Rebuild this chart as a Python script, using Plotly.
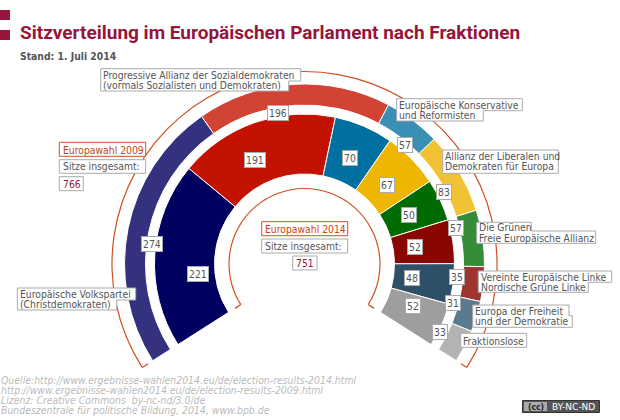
import numpy as np
import plotly.graph_objects as go

# Sitze je Fraktion
seats_2009 = [274, 196, 57, 83, 57, 35, 31, 33]
seats_2014 = [221, 191, 70, 67, 50, 52, 48, 52]
colors_2009 = ["#34317f", "#d04335", "#3a8fb5", "#f2c235", "#358d39", "#9f3530", "#5a7a90", "#b3b3b3"]
colors_2014 = ["#000060", "#c41200", "#0070a0", "#efb600", "#006b00", "#880800", "#2d5068", "#9e9e9e"]

W, H = 620, 420
CX, CY, R_MAX = 304.5, 264, 194
START, SPAN = -122.5, 245
ORANGE = "#d0501f"
GREY = "#aaaaaa"
WINE = "#97143a"
TEXT = "#555555"
PIX_FONT = "DejaVu Sans Condensed"


def px(x):
    return x / W


def py(y):
    return 1 - y / H


def ring(seats, colors, inner, outer):
    seats = np.array(seats)
    widths = seats / seats.sum() * SPAN
    theta = START + np.cumsum(widths) - widths / 2
    return go.Barpolar(
        theta=theta, width=widths, r=[outer - inner] * len(seats), base=inner,
        marker=dict(color=colors, line=dict(color="white", width=1)),
        hoverinfo="skip",
    )


def arc(radius, tick):
    # Bogen plus die beiden kleinen Enden
    lo, hi = (radius, radius + tick) if tick > 0 else (radius + tick, radius)
    return [
        go.Barpolar(theta=[START + SPAN / 2], width=[SPAN], r=[1.2], base=radius - 0.6,
                    marker=dict(color=ORANGE, line=dict(width=0)), hoverinfo="skip"),
        go.Barpolar(theta=[START, START + SPAN], width=[150 / radius / 2] * 2, r=[hi - lo] * 2, base=lo,
                    marker=dict(color=ORANGE, line=dict(width=0)), hoverinfo="skip"),
    ]


fig = go.Figure()
for tr in arc(192.5, -7) + arc(75.5, 7):
    fig.add_trace(tr)
fig.add_trace(ring(seats_2009, colors_2009, 159, 180))
fig.add_trace(ring(seats_2014, colors_2014, 90, 150))

shapes = [
    dict(type="rect", xref="paper", yref="paper", x0=0, x1=px(10), y0=py(10), y1=py(20),
         fillcolor=WINE, line_width=0),
    dict(type="rect", xref="paper", yref="paper", x0=0, x1=px(10), y0=py(30), y1=py(40),
         fillcolor=WINE, line_width=0),
]
annotations = []


def text(x, y, s, color=TEXT, size=10.3, anchor="left", **kw):
    annotations.append(dict(
        x=px(x), y=py(y), xref="paper", yref="paper", text=s, showarrow=False,
        xanchor=anchor, yanchor="middle", borderpad=0,
        font=dict(family=kw.pop("family", PIX_FONT), size=size, color=color), **kw))


def box(x0, y0, rows, color=GREY):
    d = f"M {px(x0)} {py(y0)}"
    for right, bottom in rows:
        d += f" H {px(right)} V {py(bottom)}"
    d += f" H {px(x0)} Z"
    shapes.append(dict(type="path", xref="paper", yref="paper", path=d,
                       fillcolor="white", line=dict(color=color, width=1)))


def number(x, y, s):
    annotations.append(dict(
        x=px(x), y=py(y), xref="paper", yref="paper", text=s, showarrow=False,
        font=dict(family=PIX_FONT, size=10.3, color=TEXT),
        bgcolor="white", bordercolor=GREY, borderwidth=1, borderpad=1))


# Titel
text(19, 33, "<b>Sitzverteilung im Europäischen Parlament nach Fraktionen</b>", WINE, 19, family="Roboto")
text(19, 56, "<b>Stand: 1. Juli 2014</b>", TEXT, 10.3)

# Fraktionen
box(100.7, 68.7, [(300.7, 81), (288.7, 91)])
text(102, 75, "Progressive Allianz der Sozialdemokraten")
text(102, 85, "(vormals Sozialisten und Demokraten)")
box(396.7, 98.7, [(522.3, 110.7), (483.3, 121)])
text(398, 104.5, "Europäische Konservative")
text(398, 115, "und Reformisten")
box(442.7, 150, [(558.3, 173.3)])
text(444, 156, "Allianz der Liberalen und")
text(444, 166.5, "Demokraten für Europa")
box(476.7, 222.3, [(531.3, 231), (595.7, 243.3)])
text(478, 227, "Die Grünen")
text(478, 237.5, "Freie Europäische Allianz")
box(478.3, 271, [(611.7, 282.3), (588.3, 292.3)])
text(480, 277, "Vereinte Europäische Linke")
text(480, 287, "Nordische Grüne Linke")
box(472.7, 305, [(569, 315.7), (572.3, 327.3)])
text(474, 311, "Europa der Freiheit")
text(474, 321, "und der Demokratie")
box(460.7, 333.3, [(526.7, 347.3)])
text(462, 340.5, "Fraktionslose")
box(17.3, 288, [(135.7, 300), (116.7, 310)])
text(19, 294, "Europäische Volkspartei")
text(19, 304, "(Christdemokraten)")

# Summen
box(59.3, 142.3, [(145.7, 156.3)], ORANGE)
text(62, 149.5, "Europawahl 2009", "#c8400f")
box(59.3, 159.7, [(145.7, 173.3)])
text(62, 166.5, "Sitze insgesamt:")
box(59.3, 176.7, [(83.3, 190.7)])
text(62, 184, "766", WINE)
box(261.7, 221.7, [(347.7, 235.7)], ORANGE)
text(264, 229, "Europawahl 2014", "#c8400f")
box(261.7, 239, [(347.7, 253)])
text(264, 246, "Sitze insgesamt:")
box(292.7, 256, [(317, 270)])
text(295, 263, "751", WINE)

# Werte
xy_2009 = [(141, 244), (278, 105), (405, 137), (452, 192), (464, 228), (465, 277), (461, 311), (448, 340)]
xy_2014 = [(187, 282), (255, 160), (350, 158), (387, 185), (409, 215), (423, 247), (420, 278), (413, 314)]
for (x, y), v in zip(xy_2009, seats_2009):
    number(x, y, str(v))
for (x, y), v in zip(xy_2014, seats_2014):
    number(x, y, str(v))

# Quelle
source_lines = [
    "Quelle:http://www.ergebnisse-wahlen2014.eu/de/election-results-2014.html",
    "http://www.ergebnisse-wahlen2014.eu/de/election-results-2009.html",
    "Lizenz: Creative Commons  by-nc-nd/3.0/de",
    "Bundeszentrale für politische Bildung, 2014, www.bpb.de",
]
for i, line in enumerate(source_lines):
    text(0, 379.5 + 10 * i, f"<i>{line}</i>", "#bbbbbb", 10.4)

# CC-Badge
shapes.append(dict(type="rect", xref="paper", yref="paper", x0=px(522.5), x1=px(599.5), y0=py(400.5), y1=py(412.5),
                   fillcolor="#555555", line=dict(color="#333333", width=1)))
shapes.append(dict(type="rect", xref="paper", yref="paper", x0=px(524), x1=px(547), y0=py(402), y1=py(411),
                   fillcolor="#aaaaaa", line_width=0))
text(535.5, 406.5, "<b>(cc)</b>", "#222222", 8.5, anchor="center")
text(573.5, 406.5, "BY-NC-ND", "white", 9, anchor="center", family="DejaVu Sans")

fig.update_layout(
    width=W, height=H, margin=dict(l=0, r=0, t=0, b=0),
    paper_bgcolor="white", showlegend=False,
    polar=dict(
        domain=dict(x=[px(CX - R_MAX), px(CX + R_MAX)],
                    y=[py(CY - R_MAX + R_MAX * (1 + np.sin(np.radians(34)))), py(CY - R_MAX)]),
        sector=[-34, 214],
        bgcolor="rgba(0,0,0,0)",
        bargap=0,
        radialaxis=dict(visible=False, range=[0, R_MAX]),
        angularaxis=dict(visible=False, direction="clockwise", rotation=90),
    ),
    barmode="overlay",
    shapes=shapes,
    annotations=annotations,
)

fig.write_html("out.html", config=dict(displayModeBar=False), post_script="document.body.style.margin='0';")
